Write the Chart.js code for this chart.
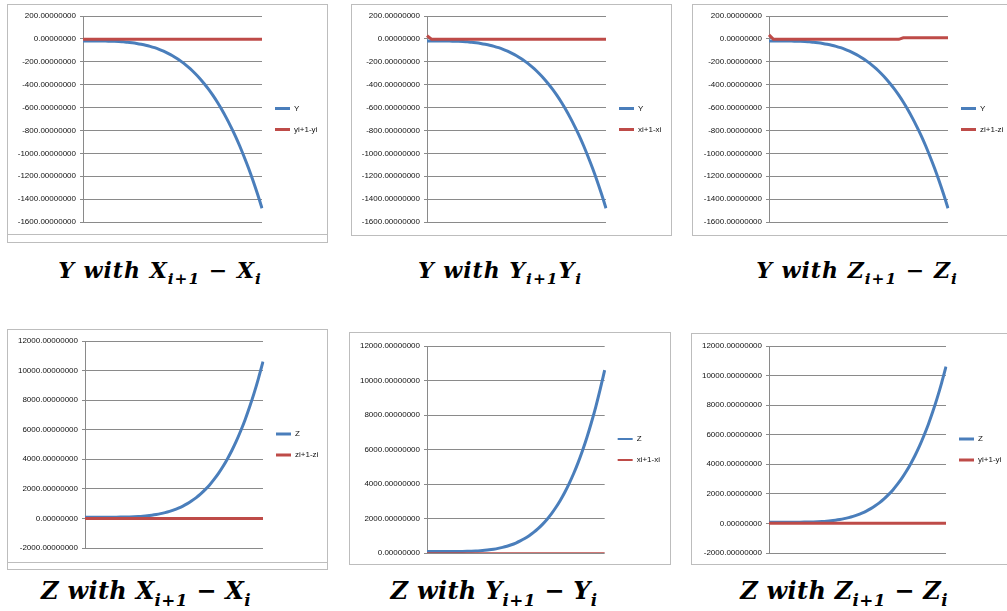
<!DOCTYPE html>
<html>
<head>
<meta charset="utf-8">
<script src="https://cdn.jsdelivr.net/npm/chart.js@4.4.1/dist/chart.umd.min.js"></script>
<style>
  body { margin: 0; background: #fff; width: 1007px; height: 611px; overflow: hidden; position: relative; }
  .box { position: absolute; border: 1px solid #bdbdbd; background: #fff; overflow: hidden; }
  .box canvas { position: absolute; left: 0; top: 0; }
  .frame { position: absolute; border: 1px solid #bdbdbd; }
  .cap { position: absolute; width: 360px; text-align: center; white-space: nowrap; color: #000;
         font-family: "DejaVu Serif", serif; font-weight: bold; font-style: italic; font-size: 22px; line-height: 30px;
         letter-spacing: 1px; }
  .cap.low { font-size: 24px; letter-spacing: 0.3px; }
  .cap sub { font-size: 70%; vertical-align: -0.4em; line-height: 0; }
</style>
</head>
<body>

<div class="frame" style="left:7px;top:4px;width:319px;height:237px"></div>
<div class="box" style="left:7px;top:4px;width:319px;height:229px"><canvas id="y_dx" width="319" height="229"></canvas></div>
<div class="box" style="left:351px;top:4px;width:319px;height:230px"><canvas id="y_dy" width="319" height="230"></canvas></div>
<div class="box" style="left:692px;top:4px;width:319px;height:230px"><canvas id="y_dz" width="319" height="230"></canvas></div>

<div class="frame" style="left:7px;top:329px;width:319px;height:239px"></div>
<div class="box" style="left:7px;top:329px;width:319px;height:232px"><canvas id="z_dx" width="319" height="232"></canvas></div>
<div class="box" style="left:349px;top:332px;width:320px;height:231px"><canvas id="z_dy" width="320" height="231"></canvas></div>
<div class="box" style="left:691px;top:333px;width:319px;height:230px"><canvas id="z_dz" width="319" height="230"></canvas></div>

<div class="cap" style="left:-20px;top:255px">Y with X<sub>i+1</sub> − X<sub>i</sub></div>
<div class="cap" style="left:320px;top:255px">Y with Y<sub>i+1</sub>Y<sub>i</sub></div>
<div class="cap" style="left:677px;top:255px">Y with Z<sub>i+1</sub> − Z<sub>i</sub></div>
<div class="cap low" style="left:-34px;top:576px">Z with X<sub>i+1</sub> − X<sub>i</sub></div>
<div class="cap low" style="left:314px;top:576px">Z with Y<sub>i+1</sub> − Y<sub>i</sub></div>
<div class="cap low" style="left:664px;top:576px">Z with Z<sub>i+1</sub> − Z<sub>i</sub></div>

<script>
// x 軸 (表示なし)
const steps = [0,1,2,3,4,5,6,7,8,9,10,11,12,13,14,15,16,17,18,19,20,
               21,22,23,24,25,26,27,28,29,30,31,32,33,34,35,36,37,38,39,40];

// Y
const yValues = [-18,-18,-18,-18,-19,-19,-20,-21,-23,-26,-29,-34,-40,-47,-55,-65,-77,-91,-107,-126,-147,
                 -171,-199,-229,-262,-300,-341,-387,-437,-492,-552,-617,-688,-764,-845,-934,-1030,-1131,-1240,-1356,-1480];

// Z
const zValues = [80,80,80,80,80,81,83,85,89,95,104,116,133,155,183,221,267,324,393,477,578,
                 699,837,1003,1193,1410,1660,1946,2268,2636,3047,3510,4025,4593,5224,5929,6697,7549,8475,9495,10600];

// 差分 (赤い線)
const dyForY = [-3,-3,-3,-3,-3,-3,-3,-3,-3,-3,-3,-3,-3,-3,-3,-3,-3,-3,-3,-3,-3,
                -3,-3,-3,-3,-3,-3,-3,-3,-3,-3,-3,-3,-3,-3,-3,-3,-3,-3,-3,-3];
const dxForY = [28,-3,-3,-3,-3,-3,-3,-3,-3,-3,-3,-3,-3,-3,-3,-3,-3,-3,-3,-3,-3,
                -3,-3,-3,-3,-3,-3,-3,-3,-3,-3,-3,-3,-3,-3,-3,-3,-3,-3,-3,-3];
const dzForY = [35,-4,-4,-4,-4,-4,-4,-4,-4,-4,-4,-4,-4,-4,-4,-4,-4,-4,-4,-4,-4,
                -4,-4,-4,-4,-4,-4,-4,-4,-4,9,9,9,9,9,9,9,9,9,9,9];
const dzForZ = [0,0,0,0,0,0,0,0,0,0,0,0,0,0,0,0,0,0,0,0,0,
                0,0,0,0,0,0,0,0,0,0,0,0,0,0,0,0,0,0,0,0];
const dxForZ = [0,0,0,0,0,0,0,0,0,0,0,0,0,0,0,0,0,0,0,0,0,
                0,0,0,0,0,0,0,0,0,0,0,0,0,0,0,0,0,0,0,0];
const dyForZ = [20,20,20,20,20,20,20,20,20,20,20,20,20,20,20,20,20,20,20,20,20,
                20,20,20,20,20,20,20,20,20,20,20,20,20,20,20,20,20,20,20,20];

const blueColor = "#4a7ebb";
const redColor = "#be4b48";
const gridColor = "#8a8a8a";
const tickFont = {family: "Liberation Sans", size: 8};

window.onload = function () {
  draw_chart("y_dx", yValues, dyForY, ["Y", "yi+1-yi"], -1600, 200, 200, {left: 75, right: 254, top: 11, bottom: 217}, 3);
  draw_chart("y_dy", yValues, dxForY, ["Y", "xi+1-xi"], -1600, 200, 200, {left: 75, right: 254, top: 11, bottom: 217}, 3);
  draw_chart("y_dz", yValues, dzForY, ["Y", "zi+1-zi"], -1600, 200, 200, {left: 76, right: 255, top: 11, bottom: 217}, 3);
  draw_chart("z_dx", zValues, dzForZ, ["Z", "zi+1-zi"], -2000, 12000, 2000, {left: 77, right: 255, top: 11, bottom: 218}, 3);
  draw_chart("z_dy", zValues, dxForZ, ["Z", "xi+1-xi"], 0, 12000, 2000, {left: 77, right: 254, top: 13, bottom: 220}, 1.5);
  draw_chart("z_dz", zValues, dyForZ, ["Z", "yi+1-yi"], -2000, 12000, 2000, {left: 77, right: 254, top: 12, bottom: 219}, 3);
}

function draw_chart(id, blue, red, names, yMin, yMax, step, area, redWidth) {
  let canvas = document.getElementById(id)
  let W = canvas.width, H = canvas.height
  new Chart(canvas.getContext('2d'), {
    type: 'line',
    data: {
      labels: steps,
      datasets: [
        {label: names[0], data: blue, borderColor: blueColor, backgroundColor: blueColor,
         borderWidth: 3, pointRadius: 0, cubicInterpolationMode: 'monotone', order: 1},
        {label: names[1], data: red, borderColor: redColor, backgroundColor: redColor,
         borderWidth: redWidth, pointRadius: 0, order: 0}
      ]
    },
    options: {
      responsive: false,
      animation: false,
      layout: {padding: {left: 0, right: 0, top: area.top, bottom: H - area.bottom}},
      plugins: {
        tooltip: {enabled: false},
        legend: {
          position: 'right',
          maxWidth: W - area.right,
          labels: {
            boxWidth: 15, boxHeight: redWidth < 3 ? 2 : 3,
            padding: 13, color: '#111', font: tickFont,
            sort: (a, b) => a.datasetIndex - b.datasetIndex,
            // 凡例は細い線だけにする
            generateLabels: chart => Chart.defaults.plugins.legend.labels.generateLabels(chart)
              .map(item => Object.assign(item, {lineWidth: 0}))
          }
        }
      },
      scales: {
        x: {display: false},
        y: {
          min: yMin, max: yMax,
          ticks: {stepSize: step, padding: 4, color: '#111', font: tickFont,
                  callback: v => v.toFixed(8)},
          grid: {color: gridColor, tickLength: 3},
          border: {color: gridColor},
          afterFit: s => { s.width = area.left }
        }
      }
    }
  });
}
</script>
</body>
</html>
